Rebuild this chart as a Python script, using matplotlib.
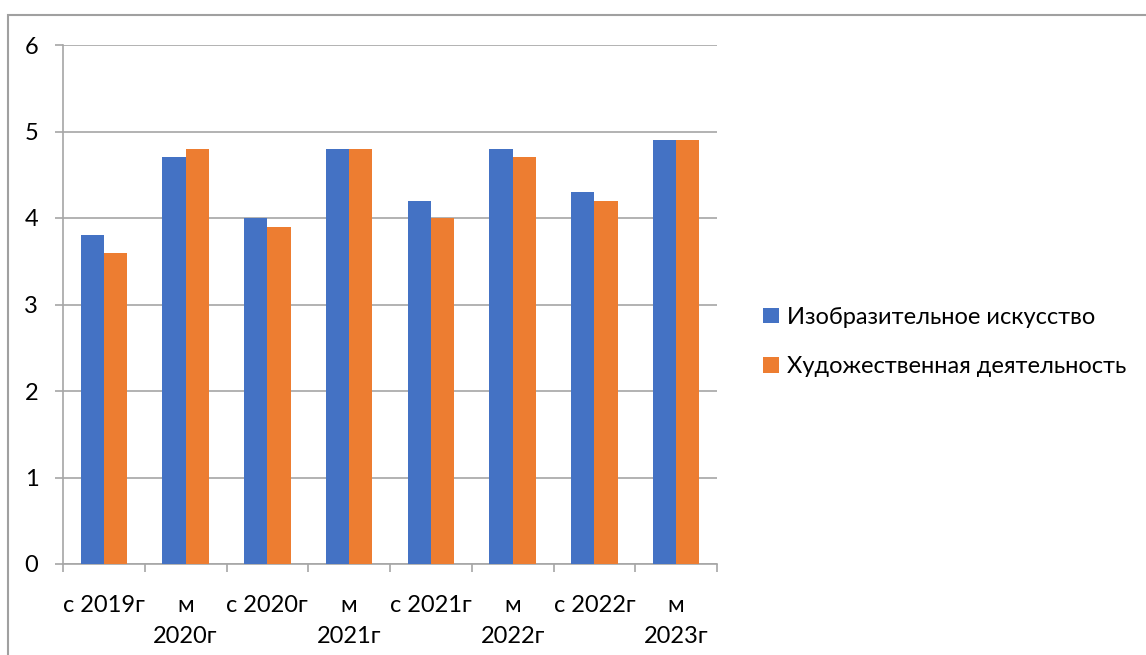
import matplotlib
matplotlib.use("Agg")
import matplotlib.pyplot as plt
from matplotlib.patches import Patch, Rectangle
import numpy as np

categories = ["с 2019г", "м\n2020г", "с 2020г", "м\n2021г", "с 2021г", "м\n2022г", "с 2022г", "м\n2023г"]
izo = [3.8, 4.7, 4.0, 4.8, 4.2, 4.8, 4.3, 4.9]
hud = [3.6, 4.8, 3.9, 4.8, 4.0, 4.7, 4.2, 4.9]
series_names = ["Изобразительное искусство", "Художественная деятельность"]
colors = ["#4472C4", "#ED7D31"]
yticks = [0, 1, 2, 3, 4, 5, 6]

plt.rcParams['font.family'] = ['Lato', 'DejaVu Sans']
FS = 17
GRID = "#a6a6a6"

fig = plt.figure(figsize=(11.46, 6.55), dpi=100)
fig.patches.append(Rectangle((8/1146, -0.1), 1.2, (655-15.5)/655 + 0.1, transform=fig.transFigure,
                             fill=False, edgecolor="#a0a0a0", linewidth=1.5))

ax = fig.add_axes([63/1146, (655-564)/655, (717-63)/1146, (564-45)/655])
x = np.arange(len(categories))
w = 1/3.5
ax.bar(x - w/2, izo, width=w, color=colors[0], label=series_names[0], zorder=3)
ax.bar(x + w/2, hud, width=w, color=colors[1], label=series_names[1], zorder=3)

ax.set_xlim(-0.5, len(categories) - 0.5)
ax.set_ylim(0, 6)
ax.set_yticks(yticks)
ax.set_yticklabels([str(v) for v in yticks], fontsize=FS)
ax.yaxis.grid(True, color=GRID, linewidth=1.2, zorder=0)
ax.tick_params(axis='y', length=5.8, color=GRID, width=1.2, pad=12)

ax.set_xticks(np.arange(-0.5, len(categories)), minor=False)
ax.set_xticklabels([])
ax.set_xticks(x, minor=True)
ax.set_xticklabels(categories, minor=True, fontsize=FS, linespacing=1.6)
ax.tick_params(axis='x', which='major', length=6, color=GRID, width=1.2, direction='out')
ax.tick_params(axis='x', which='minor', length=0, pad=22)

for s in ['top', 'right']:
    ax.spines[s].set_visible(False)
for s in ['left', 'bottom']:
    ax.spines[s].set_color(GRID)
    ax.spines[s].set_linewidth(1.2)

handles = [Patch(facecolor=c, edgecolor='none') for c in colors]
fig.legend(handles, series_names, loc='center left', bbox_to_anchor=(742/1146, (655-342)/655),
           frameon=False, fontsize=FS, handlelength=0.65, handleheight=0.65,
           handletextpad=0.35, labelspacing=1.2)

fig.savefig("out.png", dpi=100)
